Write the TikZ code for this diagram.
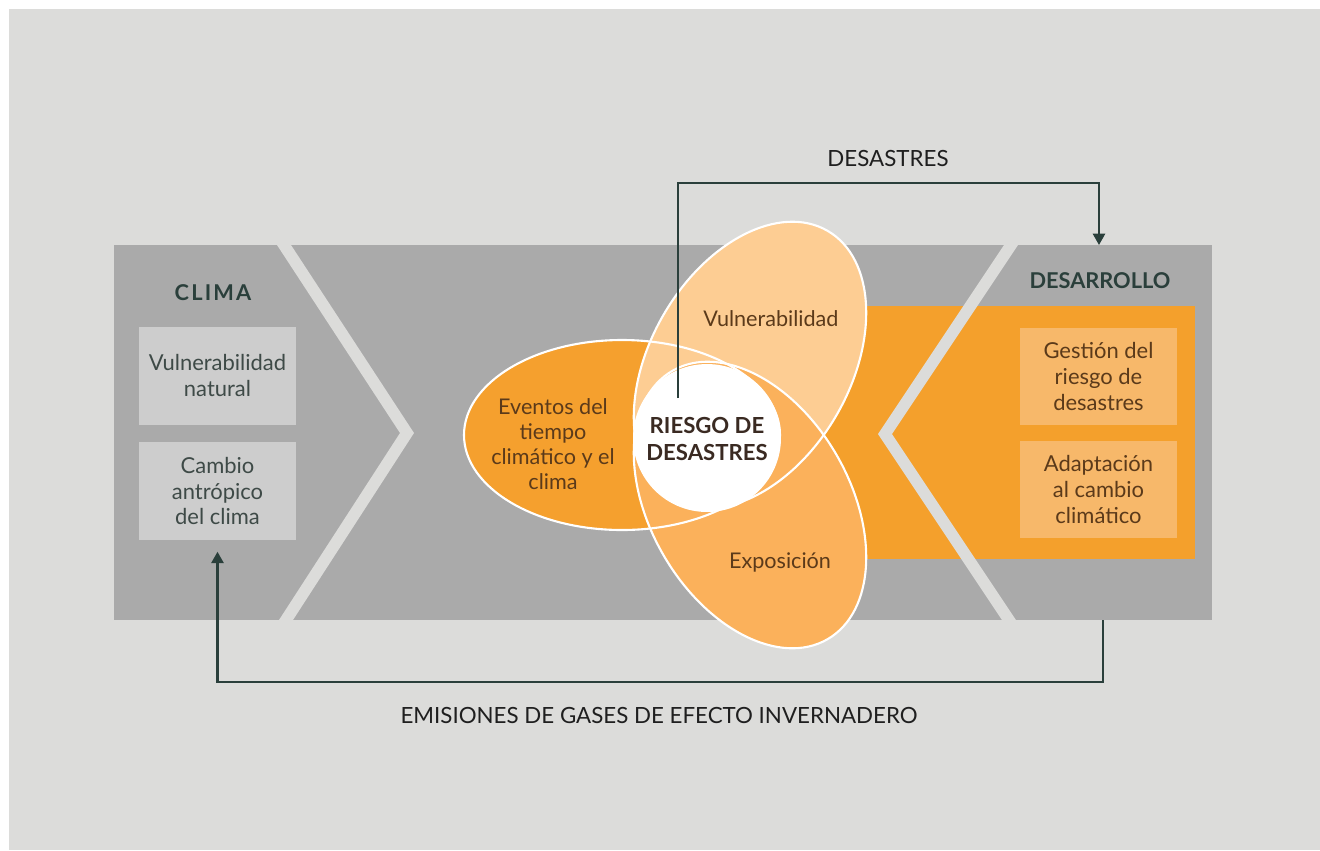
\documentclass[tikz,border=0pt]{standalone}
\usepackage{fontspec}
\setmainfont{Lato}
\usetikzlibrary{arrows.meta}
\definecolor{bgc}{HTML}{DCDCDA}
\definecolor{bandc}{HTML}{AAAAAA}
\definecolor{boxg}{HTML}{CDCDCD}
\definecolor{orng}{HTML}{F4A02C}
\definecolor{lorng}{HTML}{F7B86A}
\definecolor{vulc}{HTML}{FDCD93}
\definecolor{expc}{HTML}{FBB15B}
\definecolor{evec}{HTML}{F5A02E}
\definecolor{darkt}{HTML}{2A3F3B}
\definecolor{boxt}{HTML}{3E4A47}
\definecolor{elt}{HTML}{5B3A1A}
\definecolor{riskt}{HTML}{3A2A22}
\tikzset{
  boxtext/.style={align=center, font=\fontsize{12.5pt}{14.7pt}\selectfont, inner sep=0pt},
  graybox/.style={fill=boxg, minimum width=3.14cm, minimum height=1.96cm, boxtext, text=boxt},
  orbox/.style={fill=lorng, minimum width=3.14cm, minimum height=1.94cm, boxtext, text=elt},
  eltext/.style={align=center, font=\fontsize{12.3pt}{14.2pt}\selectfont, text=elt, inner sep=0pt},
  title/.style={font=\bfseries\fontsize{12.4pt}{14pt}\selectfont, text=darkt},
  outline/.style={draw=white, line width=1.2pt},
  conn/.style={draw=darkt, line width=1.15pt},
  tip/.style={-{Triangle[width=7pt,length=6.5pt]}},
  label/.style={font=\fontsize{12.7pt}{14pt}\selectfont, text=black!88}
}
\begin{document}
\begin{tikzpicture}[x=0.02cm,y=-0.02cm]
\useasboundingbox (0,0) rectangle (1320,850);
% background
\fill[bgc] (9,9) rectangle (1320,850);
% band
\fill[bandc] (114,245) rectangle (1212,620);
% orange rect (behind)
\fill[orng] (800,306) rectangle (1195,559);
% chevron stripes
\fill[bgc] (277,245) -- (291,245) -- (414,433) -- (293,620) -- (279,620) -- (400,433) -- cycle;
\fill[bgc] (1004,245) -- (1018,245) -- (892,434) -- (1016,620) -- (1002,620) -- (878,434) -- cycle;
% titles
\node[title] (clima) at (213,293) {\addfontfeatures{LetterSpace=10}CLIMA};
\node[title] (desarrollo) at (1100,281) {DESARROLLO};
% left boxes
\node[graybox] (vnat) at (217.5,375.5) {Vulnerabilidad\\natural};
\node[graybox] (cant) at (217.5,491) {Cambio\\antrópico\\del clima};
% right boxes
\node[orbox] (grd) at (1098.5,376.5) {Gestión del\\riesgo de\\desastres};
\node[orbox] (acc) at (1098.5,489.5) {Adaptación\\al cambio\\climático};
% ellipses fills
\fill[evec] (622,435) ellipse [x radius=158, y radius=95];
\fill[vulc, rotate around={60:(750,365)}] (750,365) ellipse [x radius=155, y radius=100];
\fill[expc, rotate around={-60:(750,505)}] (750,505) ellipse [x radius=155, y radius=100];
% outlines
\draw[outline] (622,435) ellipse [x radius=158, y radius=95];
\draw[outline, rotate around={60:(750,365)}] (750,365) ellipse [x radius=155, y radius=100];
\draw[outline, rotate around={-60:(750,505)}] (750,505) ellipse [x radius=155, y radius=100];
% centre circle
\node[circle, fill=white, minimum size=2.96cm, inner sep=0pt] (risk) at (707,438) {};
\node[font=\bfseries\fontsize{12.6pt}{15.4pt}\selectfont, text=riskt, align=center, inner sep=0pt] (risktext) at (707,439) {RIESGO DE\\DESASTRES};
% ellipse texts
\node[eltext] (eventos) at (553,444) {Eventos del\\tiempo\\climático y el\\clima};
\node[eltext] (vuln) at (771,319) {Vulnerabilidad};
\node[eltext] (expo) at (780,562) {Exposición};
% connectors
\coordinate (dstart) at (678,398);
\coordinate (dcorner) at (678,183);
\coordinate (dend) at (1099,245);
\draw[conn, tip] (dstart) -- (dcorner) -| (dend);
\node[label] (desastres) at (888,158) {DESASTRES};
\coordinate (estart) at (1103,620);
\coordinate (ecorner) at (1103,682);
\draw[conn, tip, shorten >=6.5pt] (estart) -- (ecorner) -| (cant.south);
\node[label] (emisiones) at (659,715) {EMISIONES DE GASES DE EFECTO INVERNADERO};
\end{tikzpicture}
\end{document}
